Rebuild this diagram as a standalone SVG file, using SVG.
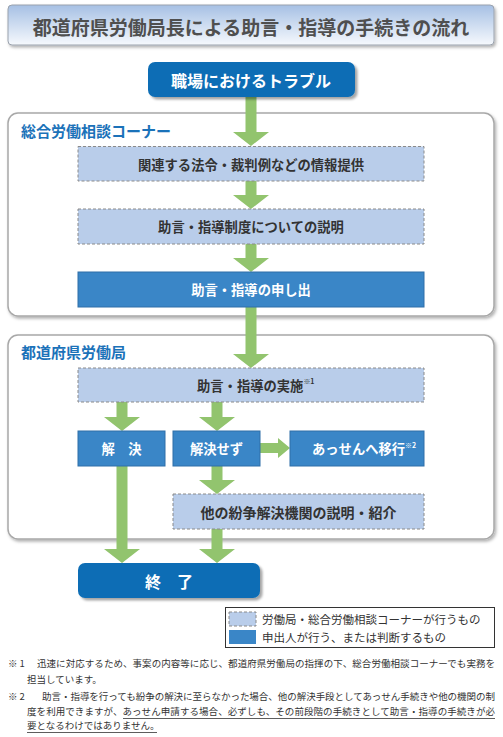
<svg xmlns="http://www.w3.org/2000/svg" width="503" height="737" viewBox="0 0 503 737">
<defs>
<linearGradient id="tg" x1="0" y1="0" x2="0" y2="1">
<stop offset="0" stop-color="#a6c0e4"/>
<stop offset="1" stop-color="#f6f9fd"/>
</linearGradient>
<filter id="sh" x="-5%" y="-10%" width="115%" height="130%">
<feDropShadow dx="1.5" dy="2" stdDeviation="1.5" flood-color="#000" flood-opacity="0.3"/>
</filter>
<filter id="sh2" x="-10%" y="-20%" width="125%" height="150%">
<feDropShadow dx="2.5" dy="2.5" stdDeviation="1" flood-color="#000" flood-opacity="0.35"/>
</filter>
</defs>
<style>
text{font-family:"Noto Sans CJK JP","Noto Sans CJK SC",sans-serif}
.lt{fill:#b9cdea;stroke:#8a8a8a;stroke-width:1;stroke-dasharray:3 2}
.md{fill:#3a86c7;stroke:#2f6fa8;stroke-width:1}
.dk{fill:#0d6db5}
.panel{fill:#fff;stroke:#a8a8a8;stroke-width:1.5}
.bt{font-size:13.3px;font-weight:bold;fill:#333;text-anchor:middle;dominant-baseline:central}
.wt{font-size:13.3px;font-weight:bold;fill:#fff;text-anchor:middle;dominant-baseline:central}
.st{text-anchor:start}
.pl{font-size:15px;font-weight:bold;fill:#1b72b9;dominant-baseline:central}
.arr{fill:#92c46e}
.lg{font-size:11.5px;fill:#333;dominant-baseline:central}
.fn{font-size:9.5px;fill:#333}
.sup{font-size:7px}
</style>

<g id="title">
<rect x="8" y="5" width="486" height="40" rx="4" fill="url(#tg)" stroke="#9aa2ad" stroke-width="1" filter="url(#sh)"/>
<text x="251" y="26" font-size="19" font-weight="bold" fill="#4f4f4f" text-anchor="middle" dominant-baseline="central">都道府県労働局長による助言・指導の手続きの流れ</text>
</g>

<g id="panel-corner">
<rect class="panel" x="8" y="113" width="486" height="203" rx="10" filter="url(#sh)"/>
<text class="pl" x="21" y="130">総合労働相談コーナー</text>
</g>

<g id="panel-bureau">
<rect class="panel" x="8" y="335" width="486" height="204" rx="10" filter="url(#sh)"/>
<text class="pl" x="21" y="351">都道府県労働局</text>
</g>

<g id="connectors">
<path class="arr" d="M245.5,96 V132 H233 L251,146 L269,132 H256.5 V96 Z"/>
<path class="arr" d="M245.5,181 V195 H233 L251,209 L269,195 H256.5 V181 Z"/>
<path class="arr" d="M245.5,244 V258 H233 L251,272 L269,258 H256.5 V244 Z"/>
<path class="arr" d="M245.5,307 V354 H233 L251,368 L269,354 H256.5 V307 Z"/>
<path class="arr" d="M116.5,402 V417 H104 L122,431 L140,417 H127.5 V402 Z"/>
<path class="arr" d="M211.5,402 V417 H199 L217,431 L235,417 H222.5 V402 Z"/>
<path class="arr" d="M260,443 H278 V438 L290,448 L278,458 V453 H260 Z"/>
<path class="arr" d="M211.5,466 V480 H199 L217,494 L235,480 H222.5 V466 Z"/>
<path class="arr" d="M116.5,466 V549 H104 L122,563 L140,549 H127.5 V466 Z"/>
<path class="arr" d="M211.5,529 V549 H199 L217,563 L235,549 H222.5 V529 Z"/>
</g>

<g id="trouble">
<rect class="dk" x="148" y="62" width="207" height="35" rx="7" filter="url(#sh2)"/>
<text x="251" y="80" font-size="16" font-weight="bold" fill="#fff" text-anchor="middle" dominant-baseline="central">職場におけるトラブル</text>
</g>

<g id="info">
<rect class="lt" x="78" y="146.5" width="346" height="34.5"/>
<text class="bt" x="251" y="164">関連する法令・裁判例などの情報提供</text>
</g>

<g id="explain">
<rect class="lt" x="78" y="209" width="346" height="35"/>
<text class="bt" x="251" y="226.5">助言・指導制度についての説明</text>
</g>

<g id="apply">
<rect class="md" x="78" y="272" width="346" height="35"/>
<text class="wt" x="251" y="289.5">助言・指導の申し出</text>
</g>

<g id="implement">
<rect class="lt" x="78" y="368" width="346" height="34"/>
<text class="bt st" x="197" y="385">助言・指導の実施<tspan class="sup" dy="-4">※1</tspan></text>
</g>

<g id="resolved">
<rect class="md" x="78" y="431" width="87" height="35"/>
<text class="wt" x="121.5" y="448.5">解　決</text>
</g>

<g id="unresolved">
<rect class="md" x="173" y="431" width="87" height="35"/>
<text class="wt" x="216.5" y="448.5">解決せず</text>
</g>

<g id="assen">
<rect class="md" x="290" y="431" width="134" height="35"/>
<text class="wt st" x="312" y="448.5">あっせんへ移行<tspan class="sup" dy="-4">※2</tspan></text>
</g>

<g id="other">
<rect class="lt" x="173" y="494" width="251" height="35"/>
<text class="bt" x="298.5" y="511.5" style="font-size:14px">他の紛争解決機関の説明・紹介</text>
</g>

<g id="end">
<rect class="dk" x="78" y="563" width="182" height="35" rx="7" filter="url(#sh2)"/>
<text x="169" y="580.5" font-size="16" font-weight="bold" fill="#fff" text-anchor="middle" dominant-baseline="central">終　了</text>
</g>

<g id="legend">
<rect x="225.5" y="607.5" width="269" height="40" fill="#fff" stroke="#333" stroke-width="1"/>
<rect class="lt" x="229" y="612" width="27" height="14"/>
<rect x="229" y="630" width="27" height="14" fill="#3a86c7"/>
<text class="lg" x="262" y="619">労働局・総合労働相談コーナーが行うもの</text>
<text class="lg" x="262" y="637">申出人が行う、または判断するもの</text>
</g>

<g id="footnotes">
<text class="fn" x="8" y="667" letter-spacing="2">※1</text>
<text class="fn" x="37" y="667" textLength="458" lengthAdjust="spacing">迅速に対応するため、事案の内容等に応じ、都道府県労働局の指揮の下、総合労働相談コーナーでも実務を</text>
<text class="fn" x="27" y="683">担当しています。</text>
<text class="fn" x="8" y="700" letter-spacing="2">※2</text>
<text class="fn" x="42" y="700" textLength="453" lengthAdjust="spacing">助言・指導を行っても紛争の解決に至らなかった場合、他の解決手段としてあっせん手続きや他の機関の制</text>
<text class="fn" x="27" y="715" textLength="468" lengthAdjust="spacing">度を利用できますが、あっせん申請する場合、必ずしも、その前段階の手続きとして助言・指導の手続きが必</text>
<text class="fn" x="27" y="729">要となるわけではありません。</text>
<line x1="123" y1="718.5" x2="495" y2="718.5" stroke="#333" stroke-width="0.8"/>
<line x1="27" y1="732.5" x2="157" y2="732.5" stroke="#333" stroke-width="0.8"/>
</g>
</svg>
